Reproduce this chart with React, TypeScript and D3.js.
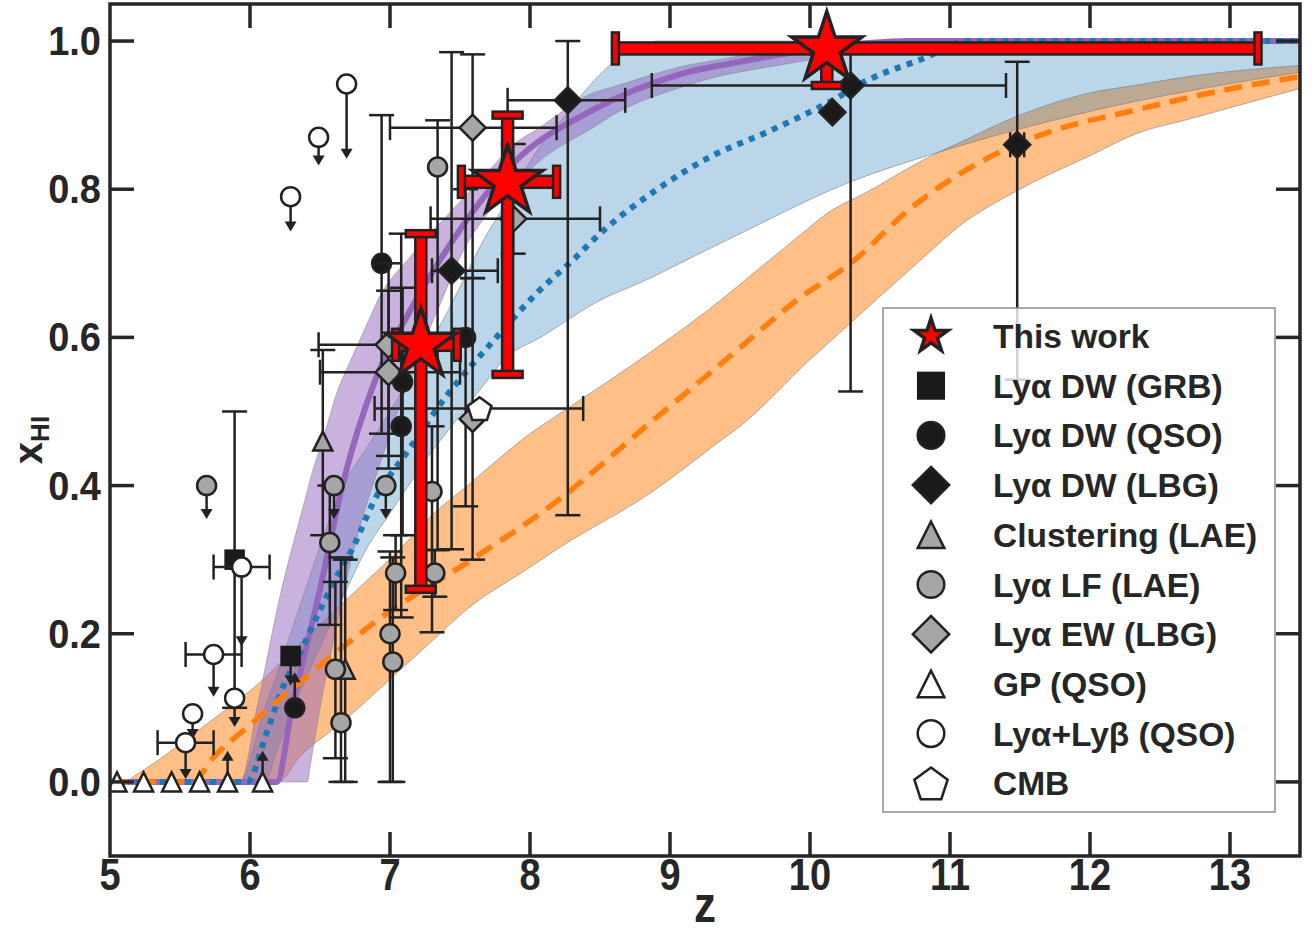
import React from 'react';
import * as d3 from 'd3';

// ---------------- data ----------------
const xTickValues = [5, 6, 7, 8, 9, 10, 11, 12, 13];
const yTickValues = [0, 0.2, 0.4, 0.6, 0.8, 1.0];

// purple model (median + band)
const purpleUpper = [[5,0],[5.93,0],[6.05,0.1],[6.21,0.247],[6.43,0.408],[6.65,0.54],[6.9,0.645],[7.15,0.71],[7.41,0.765],[7.88,0.86],[8.45,0.93],[9.07,0.965],[9.5,0.98],[10.3,0.997],[10.6,1],[13.5,1]];
const purpleMid = [[5,0],[6.19,0],[6.3,0.1],[6.5,0.26],[6.66,0.4],[6.9,0.545],[7.14,0.635],[7.41,0.72],[7.88,0.835],[8.45,0.907],[9.07,0.955],[9.5,0.972],[10.4,0.997],[10.7,1],[13.5,1]];
const purpleLower = [[5,0],[6.41,0],[6.52,0.12],[6.66,0.247],[6.89,0.408],[7.15,0.55],[7.48,0.7],[7.71,0.77],[8.05,0.835],[8.59,0.9],[9.07,0.937],[9.46,0.957],[10.41,0.988],[11,1],[13.5,1]];

// blue model
const blueUpper = [[5,0],[5.92,0],[6.2,0.15],[6.45,0.29],[6.69,0.408],[7.0,0.5],[7.34,0.61],[7.71,0.745],[8.1,0.865],[8.5,0.955],[8.74,0.99],[8.9,1],[13.5,1]];
const blueMid = [[5,0],[5.98,0],[6.12,0.067],[6.24,0.13],[6.36,0.175],[6.48,0.224],[6.6,0.27],[6.74,0.318],[6.88,0.377],[7.14,0.45],[7.4,0.52],[7.76,0.6],[8.05,0.66],[8.31,0.705],[8.5,0.74],[8.91,0.8],[9.3,0.845],[9.68,0.876],[10.16,0.92],[10.41,0.947],[10.79,0.975],[11.14,1],[13.5,1]];
const blueLower = [[5,0],[6.1,0],[6.4,0.14],[6.69,0.26],[6.83,0.314],[7.16,0.408],[7.31,0.449],[7.79,0.565],[8.2,0.615],[8.5,0.65],[8.86,0.68],[9.5,0.74],[10.29,0.81],[10.92,0.85],[12.0,0.905],[13.5,0.958]];

// orange model
const orangeUpper = [[5,0],[5.1,0],[5.19,0.01],[5.64,0.071],[6.12,0.143],[6.6,0.23],[7.07,0.314],[7.3,0.36],[8.0,0.47],[8.86,0.58],[9.36,0.65],[10.09,0.763],[10.92,0.85],[11.5,0.9],[12.0,0.93],[12.7,0.952],[13.5,0.967]];
const orangeMid = [[5,0],[5.6,0],[5.71,0.027],[6.0,0.077],[6.36,0.135],[7.02,0.233],[7.5,0.29],[8.2,0.38],[8.86,0.485],[9.4,0.57],[9.94,0.655],[10.29,0.7],[10.73,0.776],[11.2,0.835],[11.69,0.876],[12.33,0.907],[12.96,0.934],[13.5,0.952]];
const orangeLower = [[5,0],[6.2,0],[6.36,0.035],[6.74,0.094],[7.55,0.233],[8.2,0.315],[8.86,0.39],[9.5,0.48],[10.0,0.57],[10.41,0.64],[11.0,0.74],[11.5,0.8],[12.33,0.875],[13.5,0.936]];

// measurements: z, value, optional z-range, value-range, arrow tip (limits)
const grbDW = [
  { z: 5.89, v: 0.30, v0: 0.10, v1: 0.50 },
  { z: 6.29, v: 0.17, arrow: 0.13 },
];
const qsoDW = [
  { z: 6.94, v: 0.70, v0: 0.47, v1: 0.90 },
  { z: 7.09, v: 0.54, v0: 0.333, v1: 0.667 },
  { z: 7.08, v: 0.48, v0: 0.222, v1: 0.74 },
  { z: 7.54, v: 0.60, v0: 0.372, v1: 0.80 },
  { z: 6.32, v: 0.10, arrow: 0.148 },
];
const lbgDW = [
  { z: 8.27, v: 0.92, z0: 7.84, z1: 8.68, v0: 0.36, v1: 1.0 },
  { z: 7.44, v: 0.69, z0: 7.3, z1: 7.77, v0: 0.314, v1: 0.985 },
  { z: 10.16, v: 0.904 },
  { z: 10.29, v: 0.94, z0: 8.87, z1: 11.4, v0: 0.527, v1: 0.995 },
  { z: 11.48, v: 0.86, z0: 11.43, z1: 11.53, v0: 0.543, v1: 0.972 },
];
const clusteringLAE = [
  { z: 6.52, v: 0.46, v0: 0.333, v1: 0.583 },
  { z: 6.68, v: 0.152, v0: 0.0, v1: 0.30 },
];
const lyaLF = [
  { z: 5.69, v: 0.40, arrow: 0.355 },
  { z: 6.6, v: 0.40, arrow: 0.355 },
  { z: 6.97, v: 0.40, arrow: 0.355 },
  { z: 7.34, v: 0.83, v0: 0.313, v1: 0.893 },
  { z: 6.57, v: 0.323, v0: 0.212, v1: 0.40 },
  { z: 6.61, v: 0.152, v0: 0.032, v1: 0.27 },
  { z: 6.65, v: 0.08, v0: 0.0, v1: 0.303 },
  { z: 7.04, v: 0.282, v0: 0.232, v1: 0.333 },
  { z: 7.0, v: 0.20, v0: 0.0, v1: 0.311 },
  { z: 7.02, v: 0.162, v0: 0.0, v1: 0.303 },
  { z: 7.32, v: 0.282, v0: 0.25, v1: 0.313 },
  { z: 7.3, v: 0.392, v0: 0.202, v1: 0.48 },
];
const lyaEW = [
  { z: 6.99, v: 0.59, z0: 6.49, z1: 7.5, v0: 0.44, v1: 0.70 },
  { z: 6.99, v: 0.553, z0: 6.5, z1: 7.5, v0: 0.423, v1: 0.663 },
  { z: 7.59, v: 0.883, z0: 7.0, z1: 8.19, v0: 0.68, v1: 0.982 },
  { z: 7.59, v: 0.49, v0: 0.30, v1: 0.68 },
  { z: 7.88, v: 0.76, z0: 7.29, z1: 8.5, v0: 0.713, v1: 0.861 },
];
const gpQSO = [
  { z: 5.05, v: 0 }, { z: 5.24, v: 0 }, { z: 5.44, v: 0 }, { z: 5.64, v: 0 },
  { z: 5.84, v: 0, arrow: 0.042 }, { z: 6.09, v: 0, arrow: 0.042 },
];
const lyaLybQSO = [
  { z: 6.69, v: 0.942, arrow: 0.841 },
  { z: 6.49, v: 0.87, arrow: 0.832 },
  { z: 6.29, v: 0.79, arrow: 0.743 },
  { z: 5.94, v: 0.29, z0: 5.74, z1: 6.14, arrow: 0.183 },
  { z: 5.74, v: 0.172, z0: 5.54, z1: 5.94, arrow: 0.115 },
  { z: 5.89, v: 0.113, arrow: 0.074 },
  { z: 5.59, v: 0.092, arrow: 0.058 },
  { z: 5.54, v: 0.053, z0: 5.34, z1: 5.74, arrow: 0.004 },
];
const cmb = [{ z: 7.64, v: 0.504, z0: 6.89, z1: 8.38 }];
const thisWork = [
  { z: 7.22, v: 0.59, z0: 7.04, z1: 7.48, v0: 0.26, v1: 0.74 },
  { z: 7.84, v: 0.81, z0: 7.51, z1: 8.19, v0: 0.55, v1: 0.90 },
  { z: 10.12, v: 0.99, z0: 8.61, z1: 13.2, v0: 0.94 },
];

const legendLabels = ['This work', 'Lyα DW (GRB)', 'Lyα DW (QSO)', 'Lyα DW (LBG)', 'Clustering (LAE)', 'Lyα LF (LAE)', 'Lyα EW (LBG)', 'GP (QSO)', 'Lyα+Lyβ (QSO)', 'CMB'];
const legendKinds = ['star', 'grb', 'qso', 'lbg', 'clus', 'lf', 'ew', 'gp', 'lylb', 'cmb'];

// ---------------- rendering ----------------
const W = 1315, H = 935;
const PL = 110, PR = 1300, PT = 4, PB = 856;
const x = d3.scaleLinear().domain([5, 13.5]).range([PL, PR]);
const y = d3.scaleLinear().domain([-0.1, 1.05]).range([PB, PT]);

const INK = '#222222';
const KIND: Record<string, { shape: string; fill: string }> = {
  star: { shape: 'star', fill: '#ff0000' },
  grb: { shape: 'square', fill: '#1a1a1a' },
  qso: { shape: 'circle', fill: '#1a1a1a' },
  lbg: { shape: 'diamond', fill: '#1a1a1a' },
  clus: { shape: 'triangle', fill: '#a6a6a6' },
  lf: { shape: 'circle', fill: '#a6a6a6' },
  ew: { shape: 'diamond', fill: '#a6a6a6' },
  gp: { shape: 'triangle', fill: '#ffffff' },
  lylb: { shape: 'circle', fill: '#ffffff' },
  cmb: { shape: 'pentagon', fill: '#ffffff' },
};

function starPoints(cx: number, cy: number, R: number) {
  const r = R * 0.381966;
  const pts: string[] = [];
  for (let i = 0; i < 10; i++) {
    const a = -Math.PI / 2 + (i * Math.PI) / 5;
    const rr = i % 2 === 0 ? R : r;
    pts.push(`${cx + rr * Math.cos(a)},${cy + rr * Math.sin(a)}`);
  }
  return pts.join(' ');
}
function pentPoints(cx: number, cy: number, R: number) {
  const pts: string[] = [];
  for (let i = 0; i < 5; i++) {
    const a = -Math.PI / 2 + (i * 2 * Math.PI) / 5;
    pts.push(`${cx + R * Math.cos(a)},${cy + R * Math.sin(a) + R * 0.1}`);
  }
  return pts.join(' ');
}

function Marker({ kind, cx, cy, s = 1 }: { kind: string; cx: number; cy: number; s?: number }) {
  const { shape, fill } = KIND[kind];
  const sw = 2.5;
  if (shape === 'circle') return <circle cx={cx} cy={cy} r={9.5 * s} fill={fill} stroke={INK} strokeWidth={sw} />;
  if (shape === 'square') { const h = 9.5 * s; return <rect x={cx - h} y={cy - h} width={2 * h} height={2 * h} fill={fill} stroke="#1a1a1a" strokeWidth={1.5} />; }
  if (shape === 'diamond') { const h = 13 * s; return <polygon points={`${cx},${cy - h} ${cx + h},${cy} ${cx},${cy + h} ${cx - h},${cy}`} fill={fill} stroke={INK} strokeWidth={sw} />; }
  if (shape === 'triangle') { const h = 9.5 * s; return <polygon points={`${cx},${cy - h} ${cx + h},${cy + h} ${cx - h},${cy + h}`} fill={fill} stroke={INK} strokeWidth={sw} strokeLinejoin="miter" />; }
  if (shape === 'pentagon') return <polygon points={pentPoints(cx, cy, 12.5 * s)} fill={fill} stroke={INK} strokeWidth={sw} />;
  return <polygon points={starPoints(cx, cy, 37 * s)} fill={fill} stroke={INK} strokeWidth={3.5} strokeLinejoin="miter" />;
}

function ErrBars({ d }: { d: any }) {
  const cx = x(d.z), cy = y(d.v);
  const els: any[] = [];
  const cap = 12.5;
  const st = { stroke: INK, strokeWidth: 2.5 };
  if (d.z0 !== undefined) {
    els.push(<line key="h" x1={x(d.z0)} x2={x(d.z1)} y1={cy} y2={cy} {...st} />);
    els.push(<line key="hc0" x1={x(d.z0)} x2={x(d.z0)} y1={cy - cap} y2={cy + cap} {...st} />);
    els.push(<line key="hc1" x1={x(d.z1)} x2={x(d.z1)} y1={cy - cap} y2={cy + cap} {...st} />);
  }
  if (d.v0 !== undefined) {
    els.push(<line key="v" x1={cx} x2={cx} y1={y(d.v0)} y2={y(d.v1)} {...st} />);
    els.push(<line key="vc0" x1={cx - cap} x2={cx + cap} y1={y(d.v0)} y2={y(d.v0)} {...st} />);
    els.push(<line key="vc1" x1={cx - cap} x2={cx + cap} y1={y(d.v1)} y2={y(d.v1)} {...st} />);
  }
  if (d.arrow !== undefined) {
    const ty = y(d.arrow);
    const dir = ty > cy ? 1 : -1;
    els.push(<line key="a" x1={cx} x2={cx} y1={cy} y2={ty - dir * 6} {...st} />);
    els.push(<polygon key="ah" points={`${cx},${ty} ${cx - 6},${ty - dir * 10} ${cx + 6},${ty - dir * 10}`} fill={INK} />);
  }
  return <g>{els}</g>;
}

function Series({ data, kind }: { data: any[]; kind: string }) {
  return (
    <g>
      {data.map((d, i) => <ErrBars key={'e' + i} d={d} />)}
      {data.map((d, i) => <Marker key={'m' + i} kind={kind} cx={x(d.z)} cy={y(d.v)} />)}
    </g>
  );
}

function RedBars({ d }: { d: any }) {
  const cx = x(d.z), cy = y(d.v);
  const st = { fill: '#ff0000', stroke: INK, strokeWidth: 2.5 };
  const vTop = d.v1 !== undefined ? y(d.v1) : cy;
  return (
    <g>
      <rect x={cx - 5.5} y={vTop} width={11} height={y(d.v0) - vTop} {...st} />
      <rect x={x(d.z0)} y={cy - 6} width={x(d.z1) - x(d.z0)} height={12} {...st} />
      {d.v1 !== undefined && <rect x={cx - 15} y={y(d.v1) - 3.5} width={30} height={7} {...st} />}
      <rect x={cx - 15} y={y(d.v0) - 3.5} width={30} height={7} {...st} />
      <rect x={x(d.z0) - 3.5} y={cy - 16} width={7} height={32} {...st} />
      <rect x={x(d.z1) - 3.5} y={cy - 16} width={7} height={32} {...st} />
    </g>
  );
}

function bandPath(upper: number[][], lower: number[][]) {
  const zs = Array.from(new Set([...upper.map(p => p[0]), ...lower.map(p => p[0])])).sort((a, b) => a - b);
  const fu = d3.scaleLinear().domain(upper.map(p => p[0])).range(upper.map(p => p[1]));
  const fl = d3.scaleLinear().domain(lower.map(p => p[0])).range(lower.map(p => p[1]));
  const area = d3.area<number>().x(z => x(z)).y0(z => y(fl(z))).y1(z => y(fu(z))).curve(d3.curveMonotoneX);
  return area(zs) || '';
}
const linePath = (pts: number[][]) =>
  d3.line<number[]>().x(p => x(p[0])).y(p => y(p[1])).curve(d3.curveMonotoneX)(pts) || '';

export default function App() {
  const font = '"Liberation Sans", Arial, Helvetica, sans-serif';
  const legX = 883, legY = 308, legW = 392, legH = 504;
  const rowY = (i: number) => 336 + i * 49.7;
  return (
    <svg width={W} height={H} style={{ position: 'absolute', left: 0, top: 0, background: '#fff' }} fontFamily={font}>
      <defs>
        <clipPath id="plot"><rect x={PL} y={PT} width={PR - PL} height={PB - PT} /></clipPath>
      </defs>
      <rect x={0} y={0} width={W} height={H} fill="#fff" />
      <g clipPath="url(#plot)">
        <path d={bandPath(orangeUpper, orangeLower)} fill="#ff7f0e" fillOpacity={0.5} stroke="#7f7f7f" strokeOpacity={0.6} strokeWidth={1} />
        <path d={bandPath(blueUpper, blueLower)} fill="#1f77b4" fillOpacity={0.3} stroke="#7f7f7f" strokeOpacity={0.6} strokeWidth={1} />
        <path d={bandPath(purpleUpper, purpleLower)} fill="#9467bd" fillOpacity={0.5} stroke="#7f7f7f" strokeOpacity={0.5} strokeWidth={1} />
        <path d={linePath(purpleMid)} fill="none" stroke="#9467bd" strokeWidth={6} />
        <path d={linePath(blueMid)} fill="none" stroke="#1f77b4" strokeWidth={6} strokeDasharray="6 6.5" />
        <path d={linePath(orangeMid)} fill="none" stroke="#ff7f0e" strokeWidth={5.5} strokeDasharray="18 10" />

        <Series data={grbDW} kind="grb" />
        <Series data={qsoDW} kind="qso" />
        <Series data={lbgDW} kind="lbg" />
        <Series data={clusteringLAE} kind="clus" />
        <Series data={lyaLF} kind="lf" />
        <Series data={lyaEW} kind="ew" />
        <Series data={gpQSO} kind="gp" />
        <Series data={lyaLybQSO} kind="lylb" />
        <Series data={cmb} kind="cmb" />

        {thisWork.map((d, i) => <RedBars key={'r' + i} d={d} />)}
        {thisWork.map((d, i) => <Marker key={'s' + i} kind="star" cx={x(d.z)} cy={y(d.v)} />)}
      </g>

      {/* legend */}
      <rect x={legX} y={legY} width={legW} height={legH} fill="#ffffff" fillOpacity={0.8} stroke="#8c8c8c" strokeWidth={1.5} />
      {legendLabels.map((lab, i) => (
        <g key={'l' + i}>
          <Marker kind={legendKinds[i]} cx={931} cy={rowY(i)} s={i === 0 ? 0.48 : 1.4} />
          <text x={993} y={rowY(i)} dy="0.36em" fontSize={33.5} fontWeight="bold" fill="#262626">{lab}</text>
        </g>
      ))}

      {/* frame & ticks */}
      <rect x={PL} y={PT} width={PR - PL} height={PB - PT} fill="none" stroke="#262626" strokeWidth={3.5} />
      {xTickValues.filter(t => t > 5).map(t => (
        <g key={'xt' + t}>
          <line x1={x(t)} x2={x(t)} y1={PB} y2={PB - 24} stroke="#262626" strokeWidth={3.5} />
          <line x1={x(t)} x2={x(t)} y1={PT} y2={PT + 24} stroke="#262626" strokeWidth={3.5} />
        </g>
      ))}
      {yTickValues.map(t => (
        <g key={'yt' + t}>
          <line x1={PL} x2={PL + 24} y1={y(t)} y2={y(t)} stroke="#262626" strokeWidth={3.5} />
          <line x1={PR} x2={PR - 24} y1={y(t)} y2={y(t)} stroke="#262626" strokeWidth={3.5} />
        </g>
      ))}
      {xTickValues.map(t => (
        <text key={'xl' + t} transform={`translate(${x(t)},890) scale(1,1.18)`} textAnchor="middle" fontSize={38} fontWeight="bold" fill="#262626">{t}</text>
      ))}
      {yTickValues.map(t => (
        <text key={'yl' + t} transform={`translate(101,${y(t) + 14}) scale(1,1.08)`} textAnchor="end" fontSize={38} fontWeight="bold" fill="#262626">{t.toFixed(1)}</text>
      ))}
      <text transform="translate(705,922) scale(1,1.15)" textAnchor="middle" fontSize={44} fontWeight="bold" fill="#262626">z</text>
      <text transform="translate(42,440) rotate(-90)" textAnchor="middle" fontSize={40} fontWeight="bold" fill="#262626">
        x<tspan fontSize={26} dy={7}>HI</tspan>
      </text>
    </svg>
  );
}
